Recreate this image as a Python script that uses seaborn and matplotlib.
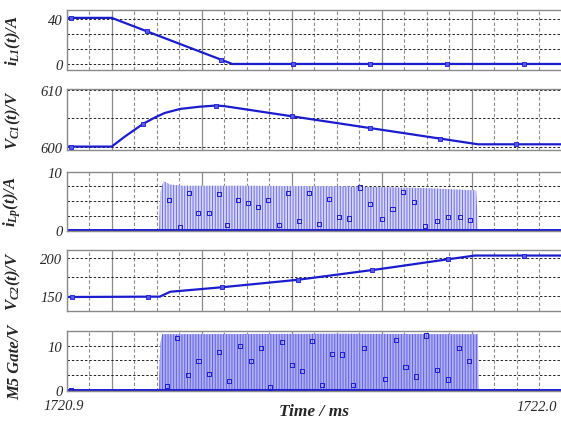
import numpy as np
import pandas as pd
import seaborn as sns
import matplotlib.pyplot as plt
from matplotlib.ticker import FixedLocator, NullFormatter

# time window (ms)
T_START, T_END = 1720.9, 1722.0
MAJOR_T = [1721.0, 1721.2, 1721.4, 1721.6, 1721.8]
MINOR_T = list(np.round(np.arange(T_START, T_END + 0.001, 0.05), 3))

# panel 1: i_L1 (A)
il1_t = [1720.9, 1721.0, 1721.268, 1722.0]
il1_v = [41.0, 41.0, 0.0, 0.0]
il1_mark_t = [1720.91, 1721.078, 1721.243, 1721.403, 1721.574, 1721.745, 1721.916]

# panel 2: V_C1 (V)
vc1_t = [1720.9, 1721.0, 1721.03, 1721.07, 1721.096, 1721.118, 1721.152,
         1721.196, 1721.232, 1721.25, 1721.814, 1722.0]
vc1_v = [600.0, 600.0, 601.8, 604.0, 605.1, 605.9, 606.6,
         607.0, 607.2, 607.1, 600.4, 600.4]
vc1_mark_t = [1720.91, 1721.07, 1721.232, 1721.401, 1721.574, 1721.73, 1721.899]

# panel 3: i_Lp (A) - switching burst envelope + sample markers
ilp_base_t = [1720.9, 1722.0]
ilp_base_v = [0.0, 0.0]
ilp_env_t = [1721.105, 1721.108, 1721.115, 1721.13, 1721.16, 1721.3,
             1721.5, 1721.7, 1721.81, 1721.814]
ilp_env_v = [0.0, 6.5, 8.4, 7.8, 7.6, 7.6, 7.5, 7.2, 6.8, 0.0]
ilp_mark_t = [1721.128, 1721.152, 1721.172, 1721.192, 1721.217, 1721.238,
              1721.257, 1721.281, 1721.302, 1721.326, 1721.348, 1721.372,
              1721.392, 1721.417, 1721.438, 1721.461, 1721.483, 1721.506,
              1721.527, 1721.552, 1721.574, 1721.600, 1721.624, 1721.648,
              1721.672, 1721.696, 1721.722, 1721.748, 1721.774, 1721.796]
ilp_mark_v = [5.2, 0.5, 6.3, 3.0, 3.0, 6.2, 0.9, 5.2, 4.6, 3.9, 5.1, 0.9,
              6.3, 1.6, 6.3, 1.1, 5.4, 2.2, 2.0, 7.3, 4.5, 1.9, 3.6, 6.6,
              4.8, 0.7, 1.6, 2.2, 2.2, 1.8]

# panel 4: V_C2 (V)
vc2_t = [1720.9, 1721.107, 1721.13, 1721.245, 1721.414, 1721.596,
         1721.747, 1721.807, 1722.0]
vc2_v = [148.0, 148.5, 155.0, 161.0, 171.0, 185.3, 198.3, 203.3, 203.3]
vc2_mark_t = [1720.911, 1721.081, 1721.245, 1721.414, 1721.578, 1721.747, 1721.916]

# panel 5: M5 gate (V)
m5_base_t = [1720.9, 1722.0]
m5_base_v = [0.0, 0.0]
m5_env_t = [1721.105, 1721.108, 1721.112, 1721.5, 1721.814, 1721.815]
m5_env_v = [0.0, 10.5, 12.6, 12.7, 12.6, 0.0]
m5_mark_t = [1720.91, 1721.122, 1721.146, 1721.170, 1721.193, 1721.216,
             1721.238, 1721.260, 1721.285, 1721.309, 1721.332, 1721.352,
             1721.378, 1721.400, 1721.423, 1721.445, 1721.468, 1721.490,
             1721.512, 1721.536, 1721.561, 1721.607, 1721.631, 1721.653,
             1721.676, 1721.699, 1721.723, 1721.747, 1721.771, 1721.794]
m5_mark_v = [0.0, 0.9, 11.7, 3.4, 6.6, 3.5, 8.5, 2.0, 10.0, 6.5, 9.5, 0.5,
             10.8, 5.6, 4.3, 11.0, 1.1, 8.1, 8.0, 1.1, 9.5, 2.4, 11.3, 5.1,
             3.0, 12.3, 4.5, 2.3, 9.4, 6.6]

BLUE = '#1c1ccf'

sns.set_style("white")
plt.rcParams['font.family'] = ['Liberation Serif', 'DejaVu Serif']
plt.rcParams['mathtext.fontset'] = 'custom'
plt.rcParams['mathtext.it'] = 'Liberation Serif:bold:italic'
plt.rcParams['mathtext.rm'] = 'Liberation Serif:bold:italic'
plt.rcParams['mathtext.bf'] = 'Liberation Serif:bold:italic'
plt.rcParams['hatch.linewidth'] = 0.7

fig = plt.figure(figsize=(5.61, 4.27), dpi=100)
W, H = 561.0, 427.0
x0, x1 = 66.7, 561.7
# (top px, bottom px) for each panel
boxes = [(11, 70.7), (90, 151), (172.7, 231.5), (251, 311.5), (331.7, 392)]
axes = [fig.add_axes([x0 / W, 1 - b / H, (x1 - x0) / W, (b - t) / H]) for t, b in boxes]


def style_panel(ax, ylim, grid_y, labels, ylabel):
    ax.set_xlim(T_START, T_END)
    ax.set_ylim(*ylim)
    ax.xaxis.set_major_locator(FixedLocator(MAJOR_T))
    ax.xaxis.set_minor_locator(FixedLocator(MINOR_T))
    ax.xaxis.set_major_formatter(NullFormatter())
    ax.set_yticks(grid_y)
    ax.set_yticklabels(labels, fontsize=10.5, fontstyle='italic')
    ax.tick_params(axis='both', which='both', length=0, pad=3)
    ax.grid(axis='x', which='minor', color='#8a8a8a', linestyle=(0, (3, 2)), lw=0.8)
    ax.grid(axis='x', which='major', color='#8a8a8a', linestyle='-', lw=0.9)
    ax.grid(axis='y', which='major', color='#222222', linestyle=(0, (2.5, 2)), lw=0.7)
    for s in ax.spines.values():
        s.set_color('#8a8a8a')
        s.set_linewidth(1.0)
    ax.set_xlabel('')
    ax.set_ylabel(ylabel, fontsize=12, fontweight='bold', fontstyle='italic')
    ax.yaxis.set_label_coords(-0.088, 0.5)


def trace(ax, t, v, mark_t):
    sns.lineplot(x=t, y=v, ax=ax, color=BLUE, lw=1.6, estimator=None, sort=False)
    sns.scatterplot(x=mark_t, y=np.interp(mark_t, t, v), ax=ax, marker='s', s=8,
                    facecolor='#5a5ae8', edgecolor=BLUE, linewidth=0.6, zorder=5)


def burst(ax, env_t, env_v, base_t, base_v, mark_t, mark_v, face, hatch_col, hatch):
    ax.fill_between(env_t, 0, env_v, facecolor=face, edgecolor=hatch_col,
                    hatch=hatch, linewidth=0, zorder=2)
    sns.lineplot(x=base_t, y=base_v, ax=ax, color=BLUE, lw=1.4, estimator=None)
    sns.scatterplot(x=mark_t, y=mark_v, ax=ax, marker='s', s=9,
                    facecolor='none', edgecolor=BLUE, linewidth=0.7, zorder=5)


ax1, ax2, ax3, ax4, ax5 = axes

trace(ax1, il1_t, il1_v, il1_mark_t)
style_panel(ax1, (-5.1, 48), [0, 13.33, 26.67, 40], ['0', '', '', '40'], r'$i_{L1}(t)/A$')

trace(ax2, vc1_t, vc1_v, vc1_mark_t)
style_panel(ax2, (599.4, 610.1), [600, 605, 610], ['600', '', '610'], r'$V_{C1}(t)/V$')

burst(ax3, ilp_env_t, ilp_env_v, ilp_base_t, ilp_base_v, ilp_mark_t, ilp_mark_v,
      '#d6d6f8', '#6f6fe0', '||||||')
style_panel(ax3, (-0.05, 10.0), [0, 2.5, 5, 7.5, 10], ['0', '', '', '', '10'], r'$i_{Lp}(t)/A$')

trace(ax4, vc2_t, vc2_v, vc2_mark_t)
style_panel(ax4, (130, 210.7), [150, 175, 200], ['150', '', '200'], r'$V_{C2}(t)/V$')

burst(ax5, m5_env_t, m5_env_v, m5_base_t, m5_base_v, m5_mark_t, m5_mark_v,
      '#b0b0f2', '#6262e2', '||||||')
style_panel(ax5, (-0.3, 13.4), [0, 3.33, 6.67, 10], ['0', '', '', '10'], 'M5 Gate/V')

fig.text(64 / W, 1 - 407 / H, '1720.9', ha='center', va='center',
         fontsize=10.5, fontstyle='italic')
fig.text(537 / W, 1 - 408 / H, '1722.0', ha='center', va='center',
         fontsize=10.5, fontstyle='italic')
fig.text(314 / W, 1 - 412 / H, 'Time / ms', ha='center', va='center',
         fontsize=12.5, fontweight='bold', fontstyle='italic')

fig.savefig('out.png', dpi=100)
